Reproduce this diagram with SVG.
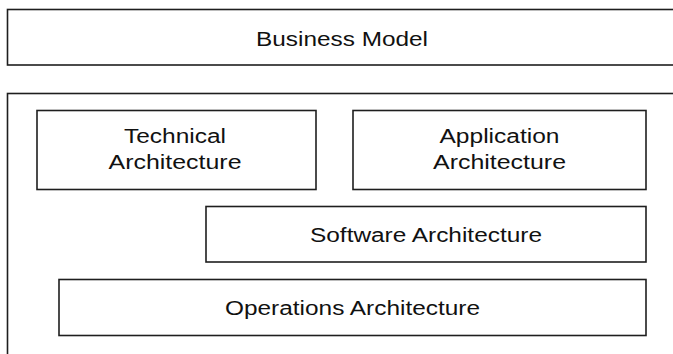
<svg xmlns="http://www.w3.org/2000/svg" width="673" height="354" viewBox="0 0 673 354">
<style>
.box{fill:#fff;stroke:#1e1e1e;stroke-width:1.6}
.lbl{font-family:"Liberation Sans",Arial,sans-serif;font-size:20px;fill:#111;text-anchor:middle}
</style>
<rect x="0" y="0" width="673" height="354" fill="#fff"/>
<g id="business-model">
<rect class="box" x="7.5" y="9.5" width="700" height="55.5"/>
<text class="lbl" x="342" y="45.5" textLength="172" lengthAdjust="spacingAndGlyphs">Business Model</text>
</g>
<g id="architecture-frame">
<rect class="box" x="7.5" y="93.5" width="700" height="300"/>
</g>
<g id="technical-architecture">
<rect class="box" x="37" y="110.5" width="279" height="79"/>
<text class="lbl" x="175" y="143" textLength="102" lengthAdjust="spacingAndGlyphs">Technical</text>
<text class="lbl" x="175" y="168.5" textLength="133" lengthAdjust="spacingAndGlyphs">Architecture</text>
</g>
<g id="application-architecture">
<rect class="box" x="353" y="110.5" width="293" height="79"/>
<text class="lbl" x="499.5" y="143" textLength="120" lengthAdjust="spacingAndGlyphs">Application</text>
<text class="lbl" x="499.5" y="168.5" textLength="133" lengthAdjust="spacingAndGlyphs">Architecture</text>
</g>
<g id="software-architecture">
<rect class="box" x="206" y="206.5" width="440" height="55.5"/>
<text class="lbl" x="426" y="241.5" textLength="232" lengthAdjust="spacingAndGlyphs">Software Architecture</text>
</g>
<g id="operations-architecture">
<rect class="box" x="59" y="279.5" width="587" height="56"/>
<text class="lbl" x="352.5" y="315" textLength="255" lengthAdjust="spacingAndGlyphs">Operations Architecture</text>
</g>
<g id="connectors"></g>
</svg>
